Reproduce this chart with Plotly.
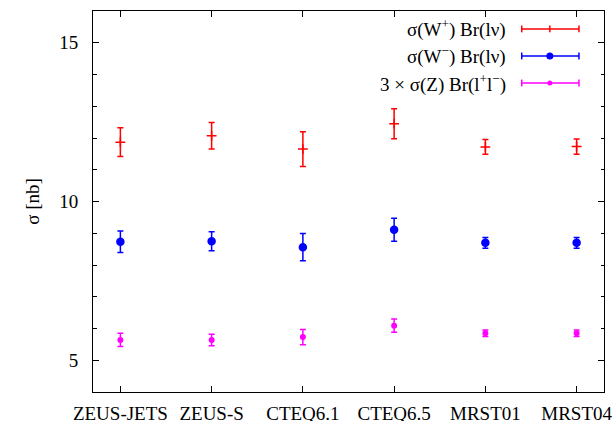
import plotly.graph_objects as go

categories = ["ZEUS-JETS", "ZEUS-S", "CTEQ6.1", "CTEQ6.5", "MRST01", "MRST04"]
wplus = [11.87, 12.07, 11.65, 12.45, 11.72, 11.73]
wplus_err = [0.45, 0.42, 0.55, 0.47, 0.23, 0.24]
wminus = [8.73, 8.75, 8.56, 9.11, 8.70, 8.70]
wminus_err = [0.34, 0.30, 0.43, 0.36, 0.17, 0.17]
z3 = [5.64, 5.64, 5.73, 6.09, 5.85, 5.85]
z3_err = [0.21, 0.18, 0.24, 0.21, 0.10, 0.10]
names = ["σ(W<sup>+</sup>) Br(lν)", "σ(W<sup>−</sup>) Br(lν)", "3 × σ(Z) Br(l<sup>+</sup>l<sup>−</sup>)"]
colors = ["#ff0000", "#0000ff", "#ff00ff"]

FONT = "Times New Roman, Liberation Serif, serif"
xs = list(range(len(categories)))

fig = go.Figure()
series = [(wplus, wplus_err, "cross-thin", 7), (wminus, wminus_err, "circle", 7), (z3, z3_err, "circle", 4.5)]
for (vals, errs, sym, size), name, col in zip(series, names, colors):
    fig.add_trace(go.Scatter(
        x=xs, y=vals, mode="markers", name=name, showlegend=False,
        marker=dict(symbol=sym, size=size, color=col, line=dict(color=col, width=1.5)),
        error_y=dict(type="data", array=errs, visible=True, color=col, thickness=1.5, width=3),
    ))

# custom gnuplot-style legend (text on the left, sample on the right)
row_y = [0.953, 0.882, 0.811]
x0, x1, xm, xt = 0.839, 0.951, 0.894, 0.812
shapes = []
annotations = []
for i, (name, col) in enumerate(zip(names, colors)):
    y = row_y[i]
    shapes.append(dict(type="line", xref="paper", yref="paper", x0=x0, x1=x1, y0=y, y1=y,
                       line=dict(color=col, width=1.5)))
    for xe in (x0, x1):
        shapes.append(dict(type="line", xref="paper", yref="paper", x0=xe, x1=xe,
                           y0=y - 0.009, y1=y + 0.009, line=dict(color=col, width=1.5)))
    if i == 0:
        shapes.append(dict(type="line", xref="paper", yref="paper", x0=xm, x1=xm,
                           y0=y - 0.009, y1=y + 0.009, line=dict(color=col, width=1.5)))
    else:
        r = 3.5 if i == 1 else 2.5
        shapes.append(dict(type="circle", xref="paper", yref="paper", xsizemode="pixel", ysizemode="pixel",
                           xanchor=xm, yanchor=y, x0=-r, x1=r, y0=-r, y1=r,
                           fillcolor=col, line=dict(color=col, width=0)))
    annotations.append(dict(xref="paper", yref="paper", x=xt, y=y, text=name, showarrow=False,
                            xanchor="right", yanchor="middle", font=dict(family=FONT, size=19, color="black")))

fig.update_layout(
    width=614, height=421,
    margin=dict(l=93, r=10, t=11, b=29),
    plot_bgcolor="white", paper_bgcolor="white",
    font=dict(family=FONT, size=19, color="black"),
    shapes=shapes, annotations=annotations,
    showlegend=False,
)
fig.update_xaxes(
    range=[-0.3, 5.3], tickvals=xs, ticktext=categories, automargin=False,
    showline=True, linecolor="black", linewidth=1, mirror="allticks",
    ticks="inside", ticklen=6, tickcolor="black", showgrid=False, zeroline=False,
    ticklabelstandoff=4, tickfont=dict(family=FONT, size=19),
)
fig.update_yaxes(
    range=[4, 16], tickvals=[5, 10, 15], automargin=False,
    showline=True, linecolor="black", linewidth=1, mirror="allticks",
    ticks="inside", ticklen=6, tickcolor="black", showgrid=False, zeroline=False,
    minor=dict(dtick=1, tick0=0, ticks="inside", ticklen=3.5, tickcolor="black", showgrid=False),
    ticklabelstandoff=10, tickfont=dict(family=FONT, size=19),
    title=dict(text="σ [nb]", font=dict(family=FONT, size=19), standoff=14),
)

fig.write_html("out.html", config={"displayModeBar": False},
               post_script="document.body.style.margin='0px';document.body.style.overflow='hidden';")
